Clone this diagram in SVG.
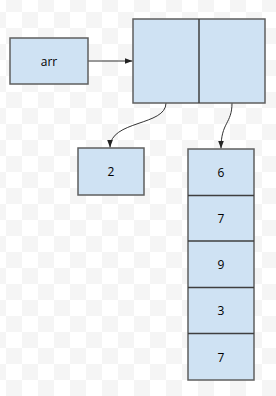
<svg xmlns="http://www.w3.org/2000/svg" width="276" height="396" viewBox="0 0 276 396">
  <defs>
    <pattern id="checker" x="6" y="12" width="32" height="32" patternUnits="userSpaceOnUse">
      <rect x="0" y="0" width="32" height="32" fill="#ffffff"/>
      <rect x="16" y="0" width="16" height="16" fill="#f5f5f5"/>
      <rect x="0" y="16" width="16" height="16" fill="#f5f5f5"/>
    </pattern>
    <marker id="arrow" viewBox="0 0 8 6" refX="8" refY="3" markerWidth="8" markerHeight="6" markerUnits="userSpaceOnUse" orient="auto">
      <path d="M0,0 L8,3 L0,6 Z" fill="#222"/>
    </marker>
  </defs>
  <style>
    .box { fill: #cfe2f3; stroke: #5f5f5f; stroke-width: 1.5; }
    .div { stroke: #3f3f3f; stroke-width: 1.5; fill: none; }
    .lbl { font-family: "Open Sans", "DejaVu Sans", sans-serif; font-size: 12px; fill: #000; text-anchor: middle; dominant-baseline: central; }
    .edge { fill: none; stroke: #333; stroke-width: 1; marker-end: url(#arrow); }
  </style>
  <rect x="0" y="0" width="276" height="396" fill="url(#checker)"/>

  <g id="connectors">
    <path class="edge" d="M88,61 H132.5"/>
    <path class="edge" d="M166,103 C166,126 110,120 110,147.5"/>
    <path class="edge" d="M232,103 C232,124 221,122 221,148.5"/>
  </g>

  <g id="node-arr">
    <rect class="box" x="10" y="38" width="78" height="46"/>
    <text class="lbl" x="49" y="61">arr</text>
  </g>

  <g id="node-pair">
    <rect class="box" x="133" y="19" width="132" height="84"/>
    <line class="div" x1="199" y1="19" x2="199" y2="103"/>
  </g>

  <g id="node-2">
    <rect class="box" x="78" y="148" width="66" height="47"/>
    <text class="lbl" x="111" y="171.5">2</text>
  </g>

  <g id="node-list">
    <rect class="box" x="188" y="149" width="66" height="231"/>
    <line class="div" x1="188" y1="195.5" x2="254" y2="195.5"/>
    <line class="div" x1="188" y1="241" x2="254" y2="241"/>
    <line class="div" x1="188" y1="287.5" x2="254" y2="287.5"/>
    <line class="div" x1="188" y1="333.5" x2="254" y2="333.5"/>
    <text class="lbl" x="221" y="172">6</text>
    <text class="lbl" x="221" y="218">7</text>
    <text class="lbl" x="221" y="264.5">9</text>
    <text class="lbl" x="221" y="310.5">3</text>
    <text class="lbl" x="221" y="357">7</text>
  </g>
</svg>
